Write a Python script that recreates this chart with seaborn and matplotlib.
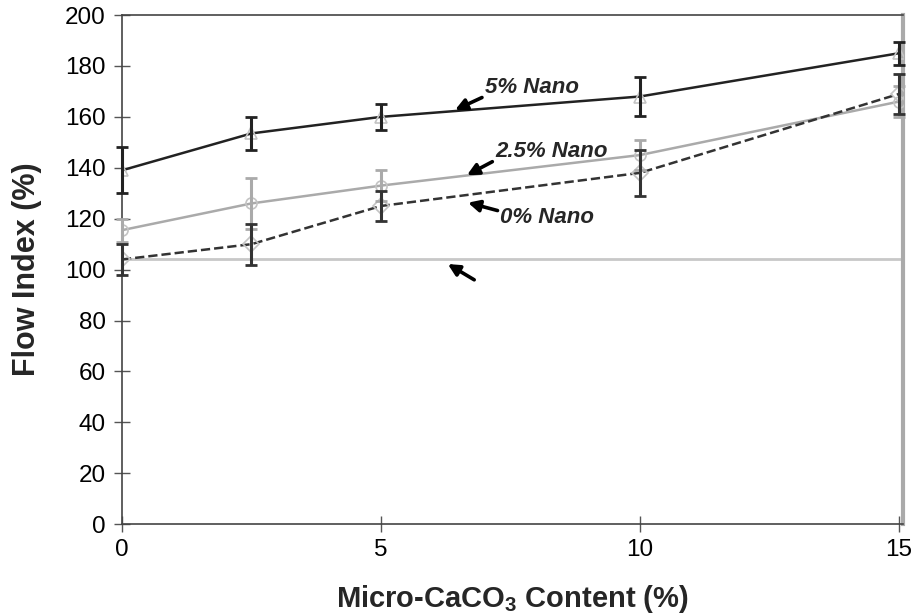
import matplotlib
matplotlib.use('Agg')
import matplotlib.pyplot as plt
import seaborn as sns
import pandas as pd

micro = [0, 2.5, 5, 10, 15]

nano5 = [139, 153.5, 160, 168, 185]
nano5_err = [9, 6.5, 5, 7.5, 4.5]

nano25 = [115.5, 126, 133, 145, 166]
nano25_err = [4.5, 10, 6, 6, 6]

nano0 = [104, 110, 125, 138, 169]
nano0_err = [6, 8, 6, 9, 8]

control = 104

sns.set_style('white')
plt.rcParams['font.family'] = ['Liberation Sans', 'DejaVu Sans']
plt.rcParams['mathtext.fontset'] = 'custom'
plt.rcParams['mathtext.bf'] = 'Liberation Sans:bold'
plt.rcParams['mathtext.rm'] = 'Liberation Sans'

fig = plt.figure(figsize=(9.15, 6.16), dpi=100)
ax = fig.add_axes([0.1333, 0.149, 0.8537, 0.8266])

ax.axhline(control, color='#c8c8c8', lw=2, zorder=1)

series = [
    ('5% Nano', nano5, nano5_err, '#222222', '-', '^'),
    ('2.5% Nano', nano25, nano25_err, '#aaaaaa', '-', 'o'),
    ('0% Nano', nano0, nano0_err, '#333333', '--', 'D'),
]
for name, vals, err, col, ls, mk in series:
    df = pd.DataFrame({'micro': micro, 'flow': vals})
    sns.lineplot(data=df, x='micro', y='flow', ax=ax, color=col, lw=1.8,
                 linestyle=ls, marker=mk, markersize=8, markerfacecolor='none',
                 markeredgecolor='#c4c4c4', markeredgewidth=1.2, zorder=3)
    ax.errorbar(micro, vals, yerr=err, fmt='none', ecolor=col, elinewidth=2.2,
                capsize=4.5, capthick=2, zorder=4, clip_on=False)

ax.set_xlim(0, 15.08)
ax.set_ylim(0, 200)
ax.set_xticks([0, 5, 10, 15])
ax.set_yticks(range(0, 201, 20))
ax.tick_params(bottom=True, left=True, direction='inout', length=11, width=1,
               labelsize=17.5, colors='#555555', labelcolor='black', pad=6)
ax.tick_params(axis='x', pad=5)

for side in ['left', 'bottom', 'top']:
    ax.spines[side].set_color('#444444')
    ax.spines[side].set_linewidth(1.2)
ax.spines['right'].set_color('#aaaaaa')
ax.spines['right'].set_linewidth(3)

ax.set_xlabel('Micro-CaCO$_\\mathbf{3}$ Content (%)', fontsize=21, fontweight='bold', labelpad=16)
ax.set_ylabel('Flow Index (%)', fontsize=22, fontweight='bold', labelpad=17)

arrow = dict(arrowstyle='-|>', color='black', lw=2.6, mutation_scale=17,
             shrinkA=0, shrinkB=0)
txt = dict(fontsize=16, fontweight='bold', style='italic', va='center')

ax.annotate('', xy=(6.43, 162.7), xytext=(6.95, 167.6), arrowprops=arrow)
ax.text(7.01, 171.5, '5% Nano', **txt)
ax.annotate('', xy=(6.66, 137.1), xytext=(7.15, 142.4), arrowprops=arrow)
ax.text(7.2, 146.5, '2.5% Nano', **txt)
ax.annotate('', xy=(6.68, 126.3), xytext=(7.25, 123.2), arrowprops=arrow)
ax.text(7.3, 120.3, '0% Nano', **txt)
ax.annotate('', xy=(6.29, 102.2), xytext=(6.8, 96), arrowprops=arrow)

fig.savefig('out.png', dpi=100)
